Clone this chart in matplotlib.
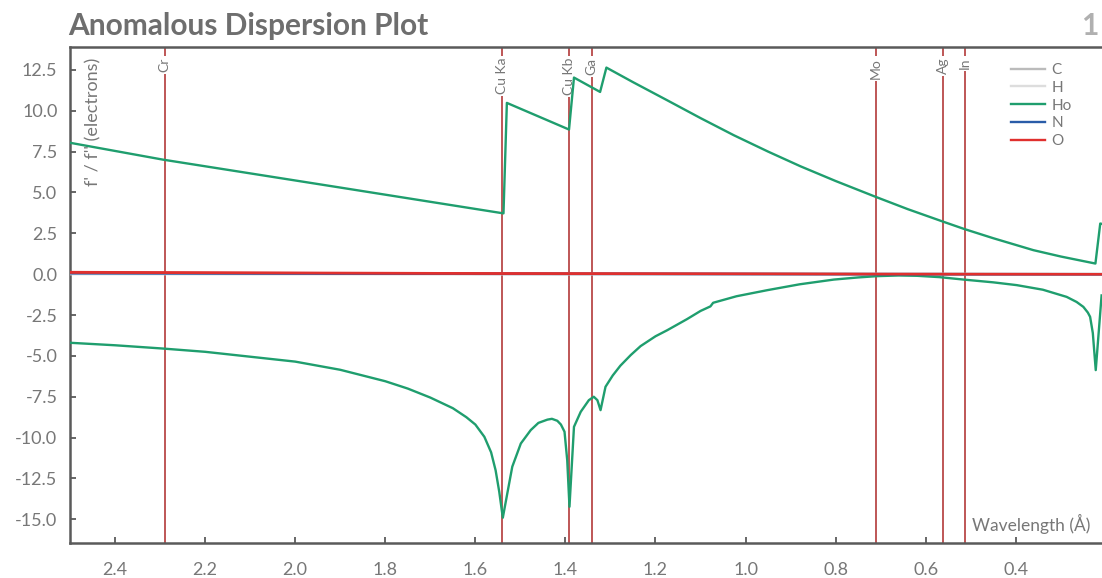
import numpy as np
import matplotlib
matplotlib.use("Agg")
from matplotlib import pyplot as plt

plt.rcParams['font.family'] = ['Lato', 'DejaVu Sans']
plt.rcParams['axes.unicode_minus'] = False

# Ho f'' (upper branch)
ho_fpp_wl = [2.498, 2.294, 1.90, 1.5375, 1.530, 1.392, 1.381, 1.323, 1.309, 1.25,
             1.174, 1.10, 1.026, 0.95, 0.878, 0.80, 0.711, 0.64, 0.560, 0.514,
             0.45, 0.361, 0.30, 0.2232, 0.2125, 0.205]
ho_fpp = [8.03, 7.01, 5.30, 3.72, 10.48, 8.85, 12.03, 11.15, 12.64, 11.75,
          10.64, 9.55, 8.50, 7.50, 6.60, 5.70, 4.73, 3.98, 3.20, 2.76,
          2.20, 1.47, 1.08, 0.65, 3.1, 3.05]

# Ho f' (lower branch)
ho_fp_wl = [2.498, 2.4, 2.294, 2.2, 2.0, 1.9, 1.8, 1.75, 1.7, 1.65,
            1.62, 1.60, 1.58, 1.565, 1.555, 1.547, 1.539, 1.529, 1.518, 1.499,
            1.477, 1.46, 1.44, 1.43, 1.418, 1.41, 1.402, 1.396, 1.391, 1.381,
            1.366, 1.348, 1.337, 1.329, 1.322, 1.311, 1.295, 1.278, 1.255, 1.233,
            1.20, 1.174, 1.13, 1.10, 1.078, 1.072, 1.02, 0.952, 0.88, 0.804,
            0.75, 0.708, 0.66, 0.619, 0.57, 0.516, 0.45, 0.398, 0.34, 0.287,
            0.265, 0.250, 0.240, 0.235, 0.229, 0.2225, 0.2095]
ho_fp = [-4.20, -4.35, -4.55, -4.75, -5.35, -5.85, -6.55, -7.00, -7.55, -8.20,
         -8.75, -9.20, -9.95, -10.90, -12.00, -13.30, -14.90, -13.41, -11.78, -10.36,
         -9.54, -9.10, -8.90, -8.85, -8.97, -9.20, -9.64, -11.38, -14.23, -9.34,
         -8.42, -7.71, -7.50, -7.71, -8.32, -6.89, -6.20, -5.60, -4.95, -4.40,
         -3.80, -3.43, -2.75, -2.25, -1.97, -1.75, -1.35, -0.98, -0.62, -0.33,
         -0.20, -0.12, -0.08, -0.10, -0.18, -0.33, -0.50, -0.67, -0.95, -1.39,
         -1.70, -2.00, -2.35, -2.61, -3.60, -5.87, -1.30]

# light elements, all close to zero
light_wl = [2.5, 2.29, 1.54, 0.71, 0.21]
c_fp = [0.04, 0.035, 0.018, 0.002, 0.0]
c_fpp = [0.025, 0.021, 0.009, 0.002, 0.0]
h_fp = [0.0, 0.0, 0.0, 0.0, 0.0]
h_fpp = [0.0, 0.0, 0.0, 0.0, 0.0]
n_fp = [0.08, 0.068, 0.029, 0.006, 0.001]
n_fpp = [0.05, 0.045, 0.018, 0.003, 0.0]
o_fp = [0.13, 0.11, 0.049, 0.011, 0.001]
o_fpp = [0.10, 0.085, 0.032, 0.006, 0.0]

# characteristic lines
source_names = ["Cr", "Cu Ka", "Cu Kb", "Ga", "Mo", "Ag", "In"]
source_wl = [2.2897, 1.5418, 1.3922, 1.3414, 0.7107, 0.5609, 0.5136]

x_ticks = [2.4, 2.2, 2.0, 1.8, 1.6, 1.4, 1.2, 1.0, 0.8, 0.6, 0.4]
y_ticks = [-15.0, -12.5, -10.0, -7.5, -5.0, -2.5, 0.0, 2.5, 5.0, 7.5, 10.0, 12.5]

W, H = 1102, 578
fig = plt.figure(figsize=(W / 100, H / 100), dpi=100)
ax = fig.add_axes([70 / W, 1 - 542.7 / H, (W - 70) / W, (542.7 - 47) / H])

gray = "#777777"
spine_col = "#5a5a5a"

series = [
    ("C", "#bbbbbb", c_fp, c_fpp, light_wl),
    ("H", "#dddddd", h_fp, h_fpp, light_wl),
    ("Ho", "#1f9e6e", ho_fp, ho_fpp, None),
    ("N", "#2a5ca8", n_fp, n_fpp, light_wl),
    ("O", "#e0302e", o_fp, o_fpp, light_wl),
]
for name, col, fp, fpp, wl in series:
    if wl is None:
        ax.plot(ho_fpp_wl, fpp, color=col, lw=1.7, label=name, zorder=3)
        ax.plot(ho_fp_wl, fp, color=col, lw=1.7, zorder=3)
    else:
        ax.plot(wl, fpp, color=col, lw=1.7, label=name, zorder=3)
        ax.plot(wl, fp, color=col, lw=1.7, zorder=3)

trans = ax.get_xaxis_transform()
for name, wl in zip(source_names, source_wl):
    ax.axvline(wl, color="#b33a3a", lw=1.2, zorder=1)
    ax.text(wl, 0.978, name, transform=trans, rotation=90, ha="center", va="top",
            fontsize=10, color=gray, zorder=2,
            bbox=dict(boxstyle="square,pad=0.15", fc="white", ec="none"))

ax.set_xlim(2.5, 0.2086)
ax.set_ylim(-16.43, 13.9)
ax.set_xticks(x_ticks)
ax.set_yticks(y_ticks)
ax.xaxis.set_major_formatter(matplotlib.ticker.FormatStrFormatter("%.1f"))
ax.yaxis.set_major_formatter(matplotlib.ticker.FormatStrFormatter("%.1f"))
ax.tick_params(direction="in", length=4, width=1.3, color=spine_col,
               labelcolor=gray, labelsize=13)
ax.tick_params(axis="x", pad=14)
ax.tick_params(axis="y", pad=9)
for side in ["left", "bottom", "top"]:
    ax.spines[side].set_color(spine_col)
    ax.spines[side].set_linewidth(1.8)
ax.spines["right"].set_visible(False)

ax.text(0.0223, 0.978, "f' / f'' (electrons)", transform=ax.transAxes, rotation=90,
        ha="center", va="top", fontsize=13, color=gray)
ax.text(0.989, 0.018, "Wavelength (Å)", transform=ax.transAxes, ha="right",
        va="bottom", fontsize=12.5, color=gray)

ax.legend(loc="upper left", bbox_to_anchor=(0.912, 0.968), frameon=False,
          fontsize=11, handlelength=2.2, handletextpad=0.45, labelspacing=0.25,
          borderpad=0, borderaxespad=0, labelcolor=gray)

fig.text(68 / W, 1 - 35 / H, "Anomalous Dispersion Plot", fontsize=21.5,
         fontweight="bold", color="#6e6e6e", ha="left", va="baseline")
fig.text(1098 / W, 1 - 35 / H, "1", fontsize=21.5, fontweight="bold",
         color="#b0b0b0", ha="right", va="baseline")

fig.savefig("out.png", dpi=100)
